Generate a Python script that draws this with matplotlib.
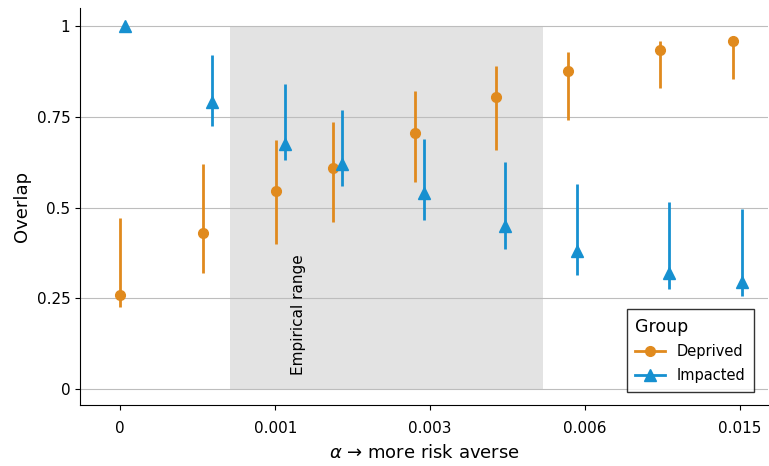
import matplotlib
matplotlib.use("Agg")
import matplotlib.pyplot as plt
from matplotlib.lines import Line2D

ticks_pos = [0, 2, 4, 6, 8]
tick_labels = ["0", "0.001", "0.003", "0.006", "0.015"]

dep_x = [0, 1.07, 2.01, 2.75, 3.81, 4.85, 5.78, 6.97, 7.91]
dep_y = [0.26, 0.43, 0.545, 0.61, 0.705, 0.805, 0.877, 0.935, 0.96]
dep_lo = [0.225, 0.32, 0.40, 0.46, 0.57, 0.66, 0.74, 0.83, 0.855]
dep_hi = [0.47, 0.62, 0.685, 0.735, 0.82, 0.89, 0.93, 0.96, 0.965]

imp_x = [0.065, 1.19, 2.13, 2.86, 3.92, 4.97, 5.9, 7.08, 8.03]
imp_y = [1.0, 0.79, 0.675, 0.62, 0.54, 0.45, 0.38, 0.32, 0.295]
imp_lo = [1.0, 0.725, 0.63, 0.56, 0.465, 0.385, 0.315, 0.275, 0.255]
imp_hi = [1.0, 0.92, 0.84, 0.77, 0.69, 0.625, 0.565, 0.515, 0.495]

emp_range = (1.41, 5.46)
orange = "#E08A1E"
blue = "#1690D0"

fig = plt.figure(figsize=(7.69, 4.66), dpi=100)
ax = fig.add_axes([80/769, 1-405/466, (768-80)/769, (405-8)/466])
ax.fill_between(emp_range, 0, 1, color="#e3e3e3", zorder=0, lw=0)
ax.text(2.3, 0.04, "Empirical range", rotation=90, fontsize=11, ha="center", va="bottom")
for yv in [0, 0.25, 0.5, 0.75, 1]:
    ax.axhline(yv, color="#bdbdbd", lw=0.8, zorder=0.5)

ax.vlines(dep_x, dep_lo, dep_hi, color=orange, lw=2, zorder=2)
ax.plot(dep_x, dep_y, "o", color=orange, ms=7, zorder=3)
ax.vlines(imp_x, imp_lo, imp_hi, color=blue, lw=2, zorder=2)
ax.plot(imp_x, imp_y, "^", color=blue, ms=8, zorder=3)

h = [Line2D([], [], color=orange, marker="o", lw=2, ms=7),
     Line2D([], [], color=blue, marker="^", lw=2, ms=8)]
leg = ax.legend(h, ["Deprived", "Impacted"], title="Group", loc="lower right",
                fontsize=10.5, title_fontsize=12.5, frameon=True, fancybox=False,
                edgecolor="black", bbox_to_anchor=(0.99, 0.015), borderpad=0.6,
                labelspacing=0.6)
leg._legend_box.align = "left"

ax.set_xlim(-0.52, 8.36)
ax.set_ylim(-0.044, 1.05)
ax.set_yticks([0, 0.25, 0.5, 0.75, 1])
ax.set_yticklabels(["0", "0.25", "0.5", "0.75", "1"], fontsize=11)
ax.set_xticks(ticks_pos)
ax.set_xticklabels(tick_labels, fontsize=11)
ax.tick_params(axis="x", pad=8)
ax.set_ylabel("Overlap", fontsize=13)
ax.set_xlabel(r"$\alpha$ → more risk averse", fontsize=13, labelpad=6)
for s in ["top", "right"]:
    ax.spines[s].set_visible(False)
fig.savefig("out.png", dpi=100)
